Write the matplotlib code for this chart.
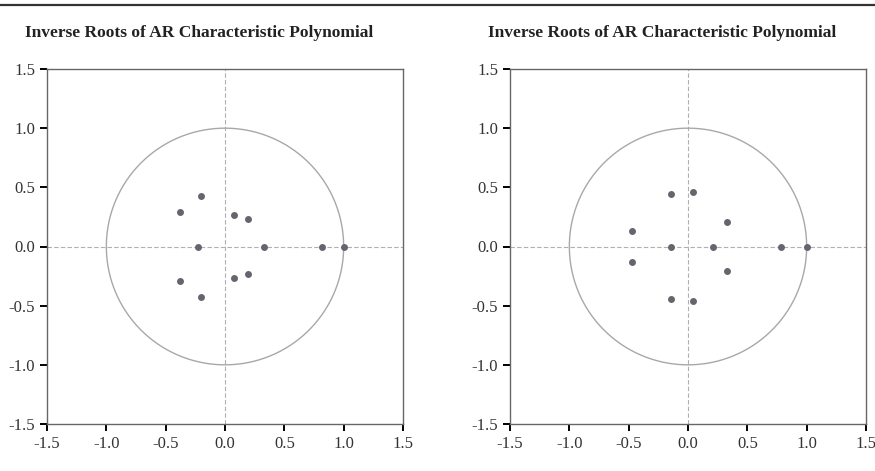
import numpy as np
import matplotlib
matplotlib.use("Agg")
import matplotlib.pyplot as plt
from matplotlib.lines import Line2D

plt.rcParams['font.family'] = ['Liberation Serif', 'DejaVu Serif']

TITLE = "Inverse Roots of AR Characteristic Polynomial"
TICKS = [-1.5, -1.0, -0.5, 0.0, 0.5, 1.0, 1.5]
TICK_LABELS = ["-1.5", "-1.0", "-0.5", "0.0", "0.5", "1.0", "1.5"]

# left panel inverse roots (real, imag)
left_re = [-0.20, -0.20, -0.377, -0.377, 0.079, 0.079, 0.197, 0.197, -0.23, 0.33, 0.816, 1.0]
left_im = [0.428, -0.428, 0.295, -0.295, 0.266, -0.266, 0.236, -0.236, 0.0, 0.0, 0.0, 0.0]

# right panel inverse roots (real, imag)
right_re = [-0.145, -0.145, 0.046, 0.046, 0.328, 0.328, -0.47, -0.47, -0.145, 0.21, 0.785, 1.0]
right_im = [0.444, -0.444, 0.457, -0.457, 0.207, -0.207, 0.134, -0.134, 0.0, 0.0, 0.0, 0.0]

fig = plt.figure(figsize=(8.75, 4.71), dpi=100)

# thin rule across the top
fig.add_artist(Line2D([0, 1], [1 - 4.5 / 471, 1 - 4.5 / 471], transform=fig.transFigure,
                      color='#333333', linewidth=1.6))

panels = [
    (47 / 875, 25 / 875, left_re, left_im),
    (510 / 875, 488 / 875, right_re, right_im),
]

theta = np.linspace(0, 2 * np.pi, 400)

for x0, title_x, re, im in panels:
    ax = fig.add_axes([x0, 1 - 424 / 471, 356 / 875, 355 / 471])
    ax.plot(np.cos(theta), np.sin(theta), color='#a8a8a8', linewidth=1.0, zorder=2)
    ax.axhline(0, color='#b0b0b0', linewidth=0.8, linestyle=(0, (4, 2)), zorder=1)
    ax.axvline(0, color='#b0b0b0', linewidth=0.8, linestyle=(0, (4, 2)), zorder=1)
    ax.plot(re, im, linestyle='none', marker='o', markersize=5,
            color='#63666c', markeredgewidth=0, zorder=3)
    ax.set_xlim(-1.5, 1.5)
    ax.set_ylim(-1.5, 1.5)
    ax.set_xticks(TICKS)
    ax.set_xticklabels(TICK_LABELS)
    ax.set_yticks(TICKS)
    ax.set_yticklabels(TICK_LABELS)
    ax.tick_params(direction='out', length=5, width=1.4, color='black',
                   labelsize=12, pad=3.5, labelcolor='#333333')
    for s in ax.spines.values():
        s.set_color('#666666')
        s.set_linewidth(1.0)
    fig.text(title_x, 1 - 33 / 471, TITLE, fontsize=12.5, fontweight='bold',
             ha='left', va='center', color='#222222')

fig.savefig("out.png", dpi=100)
